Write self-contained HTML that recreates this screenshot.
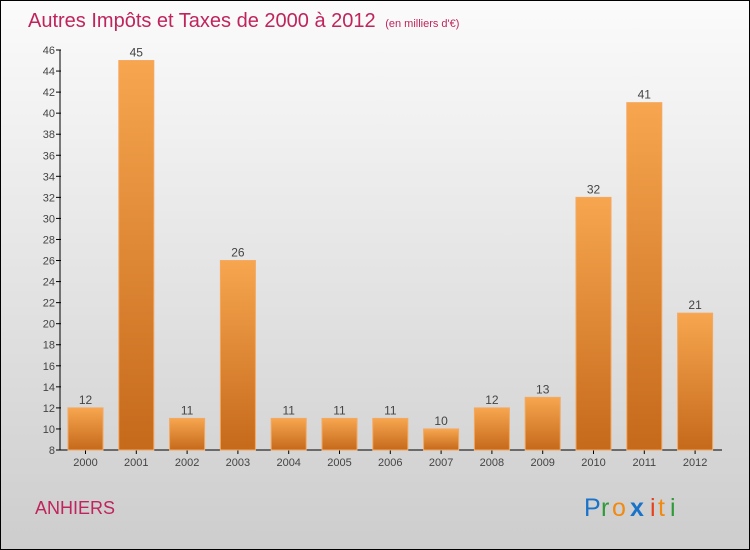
<!DOCTYPE html>
<html><head><meta charset="utf-8"><style>
body{margin:0}
svg{display:block;font-family:"Liberation Sans",sans-serif}
</style></head><body>
<svg id="c" width="750" height="550" xmlns="http://www.w3.org/2000/svg">
<defs>
<linearGradient id="bg" x1="0" y1="0" x2="0" y2="1"><stop offset="0" stop-color="#fbfbfb"/><stop offset="1" stop-color="#cdcdcd"/></linearGradient>
<linearGradient id="bar" x1="0" y1="0" x2="0" y2="1"><stop offset="0" stop-color="#f7a64f"/><stop offset="1" stop-color="#c5691b"/></linearGradient>
</defs>
<rect x="0.5" y="0.5" width="749" height="549" fill="url(#bg)" stroke="#000"/>
<text x="28" y="27" font-size="20" fill="#c0245c">Autres Impôts et Taxes de 2000 à 2012 <tspan font-size="11" dx="4">(en milliers d'€)</tspan></text>
<g id="ax"></g><g id="bars"></g>
<text x="35" y="514" font-size="18" fill="#c0245c">ANHIERS</text>
<g font-size="25">
<text x="584" y="516" fill="#1a73c9">P</text><text x="601" y="516" fill="#2f9a3a">r</text><text x="612" y="516" fill="#f08a10">o</text><text x="630" y="516" fill="#1a73c9" font-weight="bold">x</text><text x="650" y="516" fill="#e8401c">i</text><text x="658" y="516" fill="#f08a10">t</text><text x="670" y="516" fill="#2f9a3a">i</text>
</g>
</svg>
<script>
const years=["2000","2001","2002","2003","2004","2005","2006","2007","2008","2009","2010","2011","2012"];
const values=[12,45,11,26,11,11,11,10,12,13,32,41,21];
const yTicks=[8,10,12,14,16,18,20,22,24,26,28,30,32,34,36,38,40,42,44,46];
const NS="http://www.w3.org/2000/svg";
const y0=450,y1=50,vmin=8,vmax=46;
const y=v=>y0-(v-vmin)/(vmax-vmin)*(y0-y1);
const x=i=>85.5+i*50.8;
function mk(t,a,p){const e=document.createElementNS(NS,t);for(const k in a)e.setAttribute(k,a[k]);p.appendChild(e);return e;}
const ax=document.getElementById('ax'),bars=document.getElementById('bars');
const yl=mk('line',{x1:60,y1:y1,x2:60,y2:y0,stroke:'#000'},ax);


const xl=mk('line',{x1:60,y1:y0,x2:722,y2:y0,stroke:'#000'},ax);


yTicks.forEach(v=>{
  mk('line',{x1:56,y1:y(v),x2:61,y2:y(v),stroke:'#000'},ax);
  const t=mk('text',{x:55,y:y(v)+4,'font-size':11,'text-anchor':'end',fill:'#444'},ax);
  t.textContent=v;
  
  
});
years.forEach((yr,i)=>{
  const v=values[i];
  const r=mk('rect',{x:x(i)-17.5,y:y(v),width:35,height:y0-y(v),fill:'url(#bar)',stroke:'#f4a860','stroke-width':1},bars);
  
  
  const l=mk('text',{x:x(i),y:y(v)-4,'font-size':12,'text-anchor':'middle',fill:'#444'},bars);
  l.textContent=v;
  
  
  mk('line',{x1:x(i),y1:y0,x2:x(i),y2:y0+4,stroke:'#000'},ax);
  const xt=mk('text',{x:x(i),y:466,'font-size':11,'text-anchor':'middle',fill:'#444'},ax);
  xt.textContent=yr;
  
  
});
</script>
</body></html>
